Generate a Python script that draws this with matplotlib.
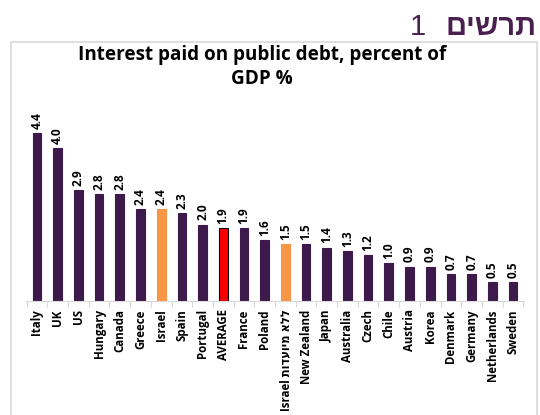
import matplotlib
matplotlib.use("Agg")
import matplotlib.pyplot as plt
from matplotlib.patches import Rectangle

categories = ["Italy", "UK", "US", "Hungary", "Canada", "Greece", "Israel", "Spain",
              "Portugal", "AVERAGE", "France", "Poland",
              "Israel " + "מיועדות"[::-1] + " " + "ללא"[::-1],
              "New Zealand", "Japan", "Australia", "Czech", "Chile", "Austria",
              "Korea", "Denmark", "Germany", "Netherlands", "Sweden"]
values = [4.4, 4.0, 2.9, 2.8, 2.8, 2.4, 2.4, 2.3, 2.0, 1.9, 1.9, 1.6,
          1.5, 1.5, 1.4, 1.3, 1.2, 1.0, 0.9, 0.9, 0.7, 0.7, 0.5, 0.5]
title = "Interest paid on public debt, percent of\nGDP %"
header_word = "תרשים"
header_num = "1"

purple = "#3e1a4c"
orange = "#f79646"
red = "#ff0000"
colors = []
edges = []
for c in categories:
    if c == "AVERAGE":
        colors.append(red); edges.append("black")
    elif c.startswith("Israel"):
        colors.append(orange); edges.append(orange)
    else:
        colors.append(purple); edges.append(purple)

FONT = ["Open Sans", "DejaVu Sans"]

fig = plt.figure(figsize=(5.4, 4.15), dpi=100)
W, H = 540, 415

# outer frame
fig.patches.append(Rectangle((11 / W, -0.05), (537 - 11) / W, (H - 42) / H + 0.05,
                             transform=fig.transFigure, fill=False,
                             edgecolor="#d9d9d9", linewidth=1.2))

ax = fig.add_axes([26 / W, (H - 301) / H, (524 - 26) / W, (301 - 95) / H])
x = list(range(len(categories)))
ax.bar(x, values, width=0.42, color=colors, edgecolor=edges, linewidth=0.8)
ax.set_xlim(-0.53, len(categories) - 0.47)
ax.set_ylim(0, 206 / 38.2)

for xi, v in zip(x, values):
    ax.annotate(f"{v:.1f}", (xi, v), xytext=(0, 3), textcoords="offset points",
                rotation=90, ha="center", va="bottom", fontsize=8.5,
                fontweight="bold", family=FONT)

for s in ["top", "right", "left"]:
    ax.spines[s].set_visible(False)
ax.spines["bottom"].set_color("#d9d9d9")
ax.set_yticks([])
ax.set_xticks([i + 0.5 for i in range(-1, len(categories))], minor=False)
ax.set_xticklabels([])
ax.tick_params(axis="x", which="major", length=4, color="#d9d9d9")
ax.set_xticks(x, minor=True)
ax.set_xticklabels(categories, minor=True, rotation=90, fontsize=8.3,
                   fontweight="bold", family=FONT)
ax.tick_params(axis="x", which="minor", length=0, pad=6)

fig.text(262 / W, 1 - 67 / H, title, ha="center", va="center", fontsize=13.6,
         fontweight="bold", family=FONT, linespacing=1.25)

fig.text(537 / W, 1 - 27 / H, header_word[::-1], ha="right", va="center",
         fontsize=21, fontweight="bold", color="#4a2050",
         family=["Liberation Sans", "DejaVu Sans"])
fig.text(426 / W, 1 - 27 / H, header_num, ha="right", va="center",
         fontsize=21, color="#4a2050", family=["Liberation Sans", "DejaVu Sans"])

fig.savefig("out.png", dpi=100)
